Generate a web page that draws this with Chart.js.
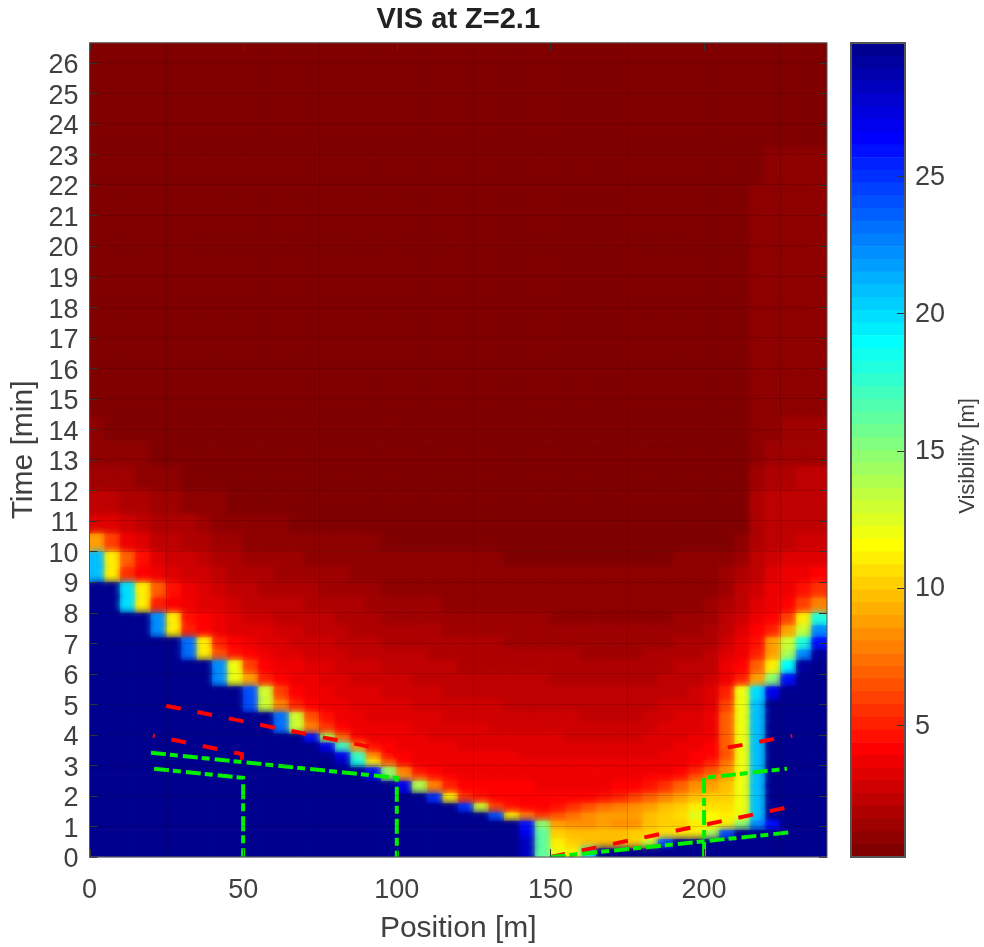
<!DOCTYPE html>
<html>
<head>
<meta charset="utf-8">
<title>VIS at Z=2.1</title>
<script src="https://cdn.jsdelivr.net/npm/chart.js@4"></script>
<style>
  html, body { margin: 0; padding: 0; background: #fff; }
  #wrap { position: relative; width: 984px; height: 947px; overflow: hidden; }
  canvas { position: absolute; top: 0; }
  #heat { left: 0; }
  #bar { left: 840px; }
</style>
</head>
<body>
<div id="wrap">
  <canvas id="heat" width="840" height="947"></canvas>
  <canvas id="bar" width="144" height="947"></canvas>
</div>
<script>
// Axis ticks
const positionTicks = [0, 50, 100, 150, 200];
const timeTicks = [0,1,2,3,4,5,6,7,8,9,10,11,12,13,14,15,16,17,18,19,20,21,22,23,24,25,26];
const colorTicks = [5, 10, 15, 20, 25];

// Cell centres along the tunnel [m]
const positions = [2.5,7.5,12.5,17.5,22.5,27.5,32.5,37.5,42.5,47.5,52.5,57.5,62.5,67.5,72.5,77.5,82.5,87.5,92.5,97.5,102.5,107.5,112.5,117.5,122.5,127.5,132.5,137.5,142.5,147.5,152.5,157.5,162.5,167.5,172.5,177.5,182.5,187.5,192.5,197.5,202.5,207.5,212.5,217.5,222.5,227.5,232.5,237.5];

// Row limits in time [min]
const timeEdges = [0,.3,.6,.9,1.2,1.47,1.77,2.1,2.5,2.7,2.95,3.2,3.44,3.75,4.05,4.4,4.75,5.15,5.6,6,6.45,6.8,7.2,7.6,8,8.5,9,9.5,10,10.6,11.2,12,12.8,13.6,14.4,16,18,20,22,23.2,26.65];

// Visibility [m], one line per time row, bottom row first
const visRows = [
[30,30,30,30,30,30,30,30,30,30,30,30,30,30,30,30,30,30,30,30,30,30,30,30,30,30,30,30,28,16,12,11,20,30,30,30,30,30,30,30,30,30,30,30,30,30,30,30],
[30,30,30,30,30,30,30,30,30,30,30,30,30,30,30,30,30,30,30,30,30,30,30,30,30,30,30,30,28,16,11,10,9.5,9.5,9.5,10,13,24,30,30,30,30,30,30,30,30,30,30],
[30,30,30,30,30,30,30,30,30,30,30,30,30,30,30,30,30,30,30,30,30,30,30,30,30,30,30,30,27,16,10,9.5,9.5,9.5,9.5,10,10,10.5,11,11,14,24,30,30,30,30,30,30],
[30,30,30,30,30,30,30,30,30,30,30,30,30,30,30,30,30,30,30,30,30,30,30,30,30,30,30,30,26,15,9,8.5,8.5,9,8.5,8.5,9.5,10,10,11,11,11,15,22,26,30,30,30],
[30,30,30,30,30,30,30,30,30,30,30,30,30,30,30,30,30,30,30,30,30,30,30,30,30,30,24,11,8,5.5,6.5,7.5,8.5,9,9,9,9.5,10,10.5,12.5,11.5,11,12,21,30,30,30,30],
[30,30,30,30,30,30,30,30,30,30,30,30,30,30,30,30,30,30,30,30,30,30,30,30,25,13,6,4.5,4.3,4.3,4.6,5.5,6.5,7.5,8,8.5,9,9.5,10,11,10.5,10.5,12,21,30,30,30,30],
[30,30,30,30,30,30,30,30,30,30,30,30,30,30,30,30,30,30,30,30,30,30,25,11,5.5,4.5,4.2,4,4,4,4.1,4.2,4.3,4.5,5,6,7,8,9,9.5,10,10,12,21,30,30,30,30],
[30,30,30,30,30,30,30,30,30,30,30,30,30,30,30,30,30,30,30,30,27,14,8,5,4.2,4.1,4,4,4,3.9,3.9,3.9,3.9,3.9,4,4.2,4.6,5.5,7,8.5,9,9.5,12,21,30,30,30,30],
[30,30,30,30,30,30,30,30,30,30,30,30,30,30,30,30,30,30,27,15,9,6,4.5,4,3.9,3.9,3.9,3.9,3.8,3.8,3.8,3.8,3.7,3.7,3.8,3.9,4,4.2,4.8,6.5,8,9,12,21,30,30,30,30],
[30,30,30,30,30,30,30,30,30,30,30,30,30,30,30,30,30,30,26,15,8,4.6,4,3.9,3.9,3.8,3.8,3.8,3.7,3.7,3.7,3.6,3.6,3.6,3.6,3.7,3.8,3.9,4.2,5,6.5,8.5,12,21,30,30,30,30],
[30,30,30,30,30,30,30,30,30,30,30,30,30,30,30,30,28,18,11,6.5,4.2,3.9,3.9,3.9,3.8,3.8,3.8,3.8,3.7,3.6,3.6,3.5,3.5,3.5,3.5,3.5,3.6,3.7,3.9,4.3,5,7.5,12,21,30,30,30,30],
[30,30,30,30,30,30,30,30,30,30,30,30,30,30,30,30,27,17,8,4.5,4,3.9,3.8,3.7,3.6,3.6,3.5,3.5,3.4,3.4,3.4,3.3,3.3,3.3,3.3,3.3,3.4,3.6,3.8,4,4.3,6.5,12,21,30,30,30,30],
[30,30,30,30,30,30,30,30,30,30,30,30,30,30,30,27,17,8.5,4.6,4,3.9,3.7,3.6,3.5,3.4,3.4,3.3,3.3,3.2,3.2,3.2,3.1,3.1,3.1,3.1,3.1,3.2,3.4,3.6,3.8,4,7,12,21,30,30,30,30],
[30,30,30,30,30,30,30,30,30,30,30,30,30,30,26,14,7,4.3,3.9,3.7,3.7,3.5,3.4,3.3,3.2,3.2,3.1,3.1,3,3,3,2.9,2.9,2.9,2.9,2.9,3,3.2,3.4,3.6,3.9,7,12,21,30,30,30,30],
[30,30,30,30,30,30,30,30,30,30,30,30,23,13,8,5.5,4.2,3.9,3.7,3.5,3.5,3.3,3.2,3.1,3,3,2.9,2.9,2.9,2.9,2.8,2.8,2.7,2.7,2.7,2.7,2.8,3,3.2,3.4,3.8,7,12,21,30,30,30,30],
[30,30,30,30,30,30,30,30,30,30,30,30,23,13,6.5,4.4,3.9,3.6,3.4,3.3,3.3,3.1,3,2.9,2.8,2.8,2.8,2.7,2.7,2.7,2.6,2.6,2.5,2.5,2.5,2.5,2.6,2.8,3,3.2,3.6,7,12,21,30,30,30,30],
[30,30,30,30,30,30,30,30,30,30,24,13,8,5,4.1,3.8,3.5,3.3,3.2,3,3,2.9,2.8,2.7,2.6,2.6,2.6,2.5,2.5,2.5,2.4,2.4,2.3,2.3,2.3,2.3,2.4,2.6,2.7,2.9,3.3,6,12,21,30,30,30,30],
[30,30,30,30,30,30,30,30,30,30,24,13,6,4.2,3.9,3.6,3.3,3.1,3,2.8,2.8,2.7,2.6,2.5,2.4,2.4,2.4,2.3,2.3,2.3,2.2,2.2,2.1,2.1,2.1,2.1,2.2,2.4,2.5,2.7,3,5,12,20,27,30,30,30],
[30,30,30,30,30,30,30,30,22,12,9,5,4,3.8,3.6,3.4,3.1,2.9,2.8,2.6,2.6,2.5,2.4,2.3,2.2,2.2,2.2,2.1,2.1,2.1,2,2,1.9,1.9,1.9,1.9,2,2.2,2.3,2.5,2.7,3.9,5,9,15,26,30,30],
[30,30,30,30,30,30,30,30,22,12,6,4.2,3.9,3.6,3.3,3.1,2.9,2.7,2.6,2.4,2.4,2.3,2.2,2.1,2,2,2,1.9,1.9,1.9,1.8,1.8,1.7,1.7,1.7,1.7,1.8,2,2.1,2.2,2.5,3.8,4.2,7,11,19,29,30],
[30,30,30,30,30,30,23,11,6.5,4.8,4,3.7,3.4,3.1,2.9,2.8,2.6,2.4,2.3,2.1,2.1,2.1,2,1.9,1.8,1.8,1.8,1.7,1.7,1.7,1.6,1.6,1.5,1.5,1.5,1.5,1.6,1.8,1.9,2,2.3,3.3,3.9,5,9,14,22,29],
[30,30,30,30,30,30,23,11,5,4.2,3.6,3.4,3.1,2.9,2.7,2.6,2.4,2.2,2.1,1.9,1.9,1.9,1.8,1.7,1.6,1.6,1.6,1.5,1.5,1.5,1.4,1.4,1.4,1.4,1.4,1.4,1.4,1.5,1.6,1.7,2,2.8,3.7,4.5,9,13,18,26],
[30,30,30,30,22,11,5,4,3.7,3.4,3.2,3,2.8,2.6,2.5,2.4,2.2,2,1.9,1.7,1.7,1.7,1.6,1.5,1.4,1.4,1.4,1.3,1.3,1.3,1.3,1.2,1.2,1.2,1.2,1.2,1.2,1.3,1.4,1.5,1.8,2.4,3.2,4,5,9,13,22],
[30,30,30,30,22,11,4.8,4,3.5,3.1,2.9,2.7,2.5,2.3,2.2,2.1,1.9,1.8,1.7,1.5,1.5,1.5,1.4,1.3,1.25,1.25,1.2,1.15,1.15,1.15,1.1,1.05,1.05,1.05,1.05,1.05,1.05,1.1,1.2,1.25,1.5,2.1,2.8,3.6,4.2,6,11,18],
[30,30,20,11,5,4,3.7,3.4,3.1,2.7,2.5,2.4,2.2,2.1,1.9,1.8,1.7,1.6,1.4,1.3,1.3,1.3,1.2,1.1,1.05,1.05,1,1,1,.95,.95,.9,.85,.85,.85,.85,.85,.9,.95,1,1.2,1.8,2.5,3.2,3.9,4.2,6,8],
[30,30,20,11,7,4.5,3.8,3.2,2.8,2.3,2.1,2,1.9,1.8,1.6,1.5,1.4,1.3,1.2,1.05,1.05,1,1,.9,.85,.85,.8,.8,.8,.75,.75,.7,.7,.7,.7,.7,.7,.7,.7,.75,.95,1.5,2.1,2.9,3.6,3.9,4.5,5.5],
[21,11,5.5,4,3.6,3.2,2.9,2.6,2.3,1.9,1.7,1.6,1.5,1.4,1.3,1.25,1.15,1.05,1.05,1,1,.95,.9,.9,.85,.85,.8,.75,.7,.7,.7,.7,.7,.7,.7,.7,.7,.7,.75,.8,.9,1.2,1.7,2.5,3,3.5,3.8,4],
[21,11,7,4.6,3.3,2.9,2.6,2.3,1.9,1.6,1.4,1.35,1.3,1.2,1.1,1.05,.95,.9,.8,.75,.7,.7,.7,.7,.7,.7,.7,.65,.6,.6,.6,.6,.6,.6,.6,.6,.6,.65,.7,.7,.75,1,1.4,2.1,2.6,3,3.2,3.4],
[9,6,3.8,3.3,2.5,2.2,2,1.8,1.5,1.2,1.05,1,.95,.9,.85,.8,.75,.7,.7,.5,.45,.4,.4,.35,.35,.35,.35,.35,.35,.35,.35,.35,.35,.35,.35,.35,.35,.35,.35,.35,.4,.6,1,1.9,2.4,2.5,2.6,2.8],
[3.3,3.1,2.8,2.4,2,1.8,1.6,1.4,1.1,.9,.8,.75,.7,.6,.55,.5,.45,.4,.35,.35,.32,.32,.32,.32,.32,.32,.32,.32,.32,.32,.32,.32,.32,.32,.32,.32,.32,.32,.32,.32,.32,.35,.6,1.7,2.1,2.2,2.3,2.5],
[2.4,2.2,1.9,1.6,1.4,1.25,1.1,.95,.75,.6,.5,.35,.35,.35,.35,.35,.35,.35,.35,.35,.35,.35,.35,.35,.35,.35,.35,.35,.35,.35,.35,.35,.35,.35,.35,.35,.35,.35,.35,.35,.35,.35,.5,1.7,2.4,2.3,2.3,2.5],
[1.5,1.3,1.2,1,.9,.7,.6,.5,.4,.3,.3,.3,.3,.3,.3,.3,.3,.3,.3,.3,.3,.3,.3,.3,.3,.3,.3,.3,.3,.3,.3,.3,.3,.3,.3,.3,.3,.3,.3,.3,.3,.3,.4,1.4,1.7,1.8,2.1,2.2],
[1,.9,.8,.7,.6,.5,.4,.3,.3,.3,.3,.3,.3,.3,.3,.3,.3,.3,.3,.3,.3,.3,.3,.3,.3,.3,.3,.3,.3,.3,.3,.3,.3,.3,.3,.3,.3,.3,.3,.3,.3,.3,.4,1.1,1.3,1.5,1.5,1.5],
[.7,.55,.5,.3,.3,.3,.3,.3,.3,.3,.3,.3,.3,.3,.3,.3,.3,.3,.3,.3,.3,.3,.3,.3,.3,.3,.3,.3,.3,.3,.3,.3,.3,.3,.3,.3,.3,.3,.3,.3,.3,.3,.35,.9,1.1,1.2,1.2,1.3],
[.3,.3,.3,.3,.3,.3,.3,.3,.3,.3,.3,.3,.3,.3,.3,.3,.3,.3,.3,.3,.3,.3,.3,.3,.3,.3,.3,.3,.3,.3,.3,.3,.3,.3,.3,.3,.3,.3,.3,.3,.3,.3,.35,.8,.9,1,1,1],
[.3,.3,.3,.3,.3,.3,.3,.3,.3,.3,.3,.3,.3,.3,.3,.3,.3,.3,.3,.3,.3,.3,.3,.3,.3,.3,.3,.3,.3,.3,.3,.3,.3,.3,.3,.3,.3,.3,.3,.3,.3,.3,.3,.7,.85,.9,.9,.9],
[.3,.3,.3,.3,.3,.3,.3,.3,.3,.3,.3,.3,.3,.3,.3,.3,.3,.3,.3,.3,.3,.3,.3,.3,.3,.3,.3,.3,.3,.3,.3,.3,.3,.3,.3,.3,.3,.3,.3,.3,.3,.3,.3,.7,.75,.8,.8,.8],
[.3,.3,.3,.3,.3,.3,.3,.3,.3,.3,.3,.3,.3,.3,.3,.3,.3,.3,.3,.3,.3,.3,.3,.3,.3,.3,.3,.3,.3,.3,.3,.3,.3,.3,.3,.3,.3,.3,.3,.3,.3,.3,.3,.68,.7,.7,.75,.75],
[.3,.3,.3,.3,.3,.3,.3,.3,.3,.3,.3,.3,.3,.3,.3,.3,.3,.3,.3,.3,.3,.3,.3,.3,.3,.3,.3,.3,.3,.3,.3,.3,.3,.3,.3,.3,.3,.3,.3,.3,.3,.3,.3,.4,.68,.7,.7,.7],
[.3,.3,.3,.3,.3,.3,.3,.3,.3,.3,.3,.3,.3,.3,.3,.3,.3,.3,.3,.3,.3,.3,.3,.3,.3,.3,.3,.3,.3,.3,.3,.3,.3,.3,.3,.3,.3,.3,.3,.3,.3,.3,.3,.3,.3,.3,.3,.3]
];

// Overlay lines, [position, time]
const redLineA = [[24.9,4.95],[99.5,3.44],[99.5,3.1]];
const redLineB = [[20.6,3.97],[49.6,3.37],[49.6,3.18]];
const redLineC = [[150,0],[228.4,1.65]];
const redLineD = [[200,3.18],[200,3.44],[228.7,3.97]];
const greenLineA = [[20,3.41],[100,2.59],[100,0]];
const greenLineB = [[21,2.89],[50,2.59],[50,0]];
const greenLineC = [[150,0],[227.5,0.8]];
const greenLineD = [[200,0],[200,2.59],[227,2.89]];

const visMin = 0.2;
const visMax = 29.85;
const levels = 64;
const textColor = "#404040";
const boxColor = "#555555";
const fontName = "'Liberation Sans', Arial, sans-serif";

// jet map flipped, low visibility is dark red
function jetColor(u) {
  const part = c => Math.round(255 * Math.max(0, Math.min(1, 1.5 - Math.abs(4 * u - c))));
  return `rgb(${part(3)},${part(2)},${part(1)})`;
}
function levelOf(v) {
  const i = Math.floor((v - visMin) / (visMax - visMin) * levels);
  return Math.max(0, Math.min(levels - 1, i));
}
function levelColor(i) {
  return jetColor((levels - i) / levels);
}

function heatDatasets() {
  return visRows.map((row, r) => ({
    type: "bar",
    label: `t${r}`,
    order: 2,
    grouped: false,
    barPercentage: 1,
    categoryPercentage: 1,
    borderWidth: 0,
    data: positions.map((p, k) => ({ x: p, y: [timeEdges[r], timeEdges[r + 1]] })),
    backgroundColor: row.map(v => levelColor(levelOf(v)))
  }));
}

function lineDataset(points, color, dash, dashOffset) {
  return {
    type: "line",
    order: 0,
    data: points.map(p => ({ x: p[0], y: p[1] })),
    borderColor: color,
    borderWidth: 4,
    borderDash: dash,
    borderDashOffset: dashOffset || 0,
    pointRadius: 0,
    fill: false,
    tension: 0
  };
}

const redDash = [15, 17];
const greenDash = [15, 4, 8, 5];

// soft cell edges: sharp pass first so the plot border stays solid, then a blurred pass
const softCells = {
  id: "softCells",
  beforeDatasetsDraw(chart) {
    const { ctx, chartArea: a } = chart;
    ctx.save();
    ctx.beginPath();
    ctx.rect(a.left, a.top, a.right - a.left, a.bottom - a.top);
    ctx.clip();
    chart.getSortedVisibleDatasetMetas().forEach(meta => {
      if (meta.type === "bar") meta.data.forEach(el => el.draw(ctx));
    });
    ctx.restore();
  },
  beforeDatasetDraw(chart, args) {
    if (args.meta.type === "bar") chart.ctx.filter = "blur(3.5px)";
  },
  afterDatasetDraw(chart) {
    chart.ctx.filter = "none";
  }
};

// matlab style box with ticks pointing inwards
const heatFrame = {
  id: "heatFrame",
  afterDraw(chart) {
    const { ctx, chartArea: a, scales } = chart;
    ctx.save();
    ctx.strokeStyle = "#333333";
    ctx.lineWidth = 1;
    ctx.beginPath();
    scales.y.ticks.forEach(t => {
      const y = Math.round(scales.y.getPixelForValue(t.value)) + 0.5;
      ctx.moveTo(a.left, y); ctx.lineTo(a.left + 8, y);
      ctx.moveTo(a.right, y); ctx.lineTo(a.right - 8, y);
    });
    scales.x.ticks.forEach(t => {
      const x = Math.round(scales.x.getPixelForValue(t.value)) + 0.5;
      ctx.moveTo(x, a.bottom); ctx.lineTo(x, a.bottom - 8);
      ctx.moveTo(x, a.top); ctx.lineTo(x, a.top + 8);
    });
    ctx.stroke();
    ctx.strokeStyle = boxColor;
    ctx.strokeRect(a.left, a.top, a.right - a.left, a.bottom - a.top);
    ctx.restore();
  }
};

const barFrame = {
  id: "barFrame",
  afterDraw(chart) {
    const { ctx, chartArea: a, scales } = chart;
    ctx.save();
    ctx.strokeStyle = "#333333";
    ctx.lineWidth = 1;
    ctx.beginPath();
    scales.y.ticks.forEach(t => {
      const y = Math.round(scales.y.getPixelForValue(t.value)) + 0.5;
      ctx.moveTo(a.right, y); ctx.lineTo(a.right - 8, y);
    });
    ctx.stroke();
    ctx.strokeStyle = boxColor;
    ctx.lineWidth = 2;
    ctx.strokeRect(a.left, a.top, a.right - a.left, a.bottom - a.top);
    // the label reads upwards here, chart.js would turn it the other way
    ctx.translate(128, (a.top + a.bottom) / 2 + 6);
    ctx.rotate(-Math.PI / 2);
    ctx.fillStyle = textColor;
    ctx.font = `22px ${fontName}`;
    ctx.textAlign = "center";
    ctx.textBaseline = "middle";
    ctx.fillText("Visibility [m]", 0, 0);
    ctx.restore();
  }
};

new Chart(document.getElementById("heat"), {
  type: "bar",
  data: {
    datasets: [
      lineDataset(greenLineA, "#00f000", greenDash),
      lineDataset(greenLineB, "#00f000", greenDash),
      lineDataset(greenLineC, "#00f000", greenDash),
      lineDataset(greenLineD, "#00f000", greenDash),
      lineDataset(redLineA, "#ff0000", redDash),
      lineDataset(redLineB, "#ff0000", redDash, 13),
      lineDataset(redLineC, "#ff0000", redDash),
      lineDataset(redLineD, "#ff0000", redDash),
      ...heatDatasets()
    ]
  },
  plugins: [softCells, heatFrame],
  options: {
    responsive: false,
    animation: false,
    devicePixelRatio: 1,
    layout: { padding: { right: 13, left: 0, top: 0, bottom: 0 } },
    plugins: {
      legend: { display: false },
      tooltip: { enabled: false },
      title: {
        display: true,
        fullSize: false,
        text: "VIS at Z=2.1",
        color: "#222222",
        font: { family: fontName, size: 29, weight: "bold" },
        padding: { top: 3, bottom: 5 }
      }
    },
    scales: {
      x: {
        type: "linear",
        offset: false,
        min: 0,
        max: 240,
        afterBuildTicks: s => { s.ticks = positionTicks.map(v => ({ value: v })); },
        afterFit: s => { s.height = 90; },
        grid: { color: "rgba(0,0,0,0.14)", drawTicks: false, z: 1 },
        border: { display: false },
        ticks: { color: textColor, font: { family: fontName, size: 27 }, padding: 17, maxRotation: 0 },
        title: { display: true, text: "Position [m]", color: textColor, font: { family: fontName, size: 30 }, padding: 0 }
      },
      y: {
        type: "linear",
        min: 0,
        max: 26.65,
        afterBuildTicks: s => { s.ticks = timeTicks.map(v => ({ value: v })); },
        afterFit: s => { s.width = 89.5; },
        grid: { color: "rgba(0,0,0,0.14)", drawTicks: false, z: 1 },
        border: { display: false },
        ticks: { color: textColor, font: { family: fontName, size: 27 }, padding: 11, autoSkip: false, labelOffset: 3 },
        title: { display: true, text: "Time [min]", color: textColor, font: { family: fontName, size: 30 }, padding: { top: 6, bottom: 0 } }
      }
    }
  }
});

// colour scale, one floating bar per colour level
const barLevels = Array.from({ length: levels }, (_, i) => i);
new Chart(document.getElementById("bar"), {
  type: "bar",
  data: {
    labels: ["Visibility"],
    datasets: barLevels.map(i => ({
      grouped: false,
      barPercentage: 1,
      categoryPercentage: 1,
      borderWidth: 0,
      data: [[visMin + i * (visMax - visMin) / levels, visMin + (i + 1) * (visMax - visMin) / levels]],
      backgroundColor: levelColor(i)
    }))
  },
  plugins: [barFrame],
  options: {
    responsive: false,
    animation: false,
    devicePixelRatio: 1,
    layout: { padding: { left: 11, top: 43, bottom: 90, right: 0 } },
    plugins: { legend: { display: false }, tooltip: { enabled: false }, title: { display: false } },
    scales: {
      x: { display: false },
      y: {
        position: "right",
        min: visMin,
        max: visMax,
        afterBuildTicks: s => { s.ticks = colorTicks.map(v => ({ value: v })); },
        afterFit: s => { s.width = 79; },
        grid: { display: false, drawTicks: false },
        border: { display: false },
        ticks: { color: textColor, font: { family: fontName, size: 27 }, padding: 10, labelOffset: 1 }
      }
    }
  }
});
</script>
</body>
</html>
